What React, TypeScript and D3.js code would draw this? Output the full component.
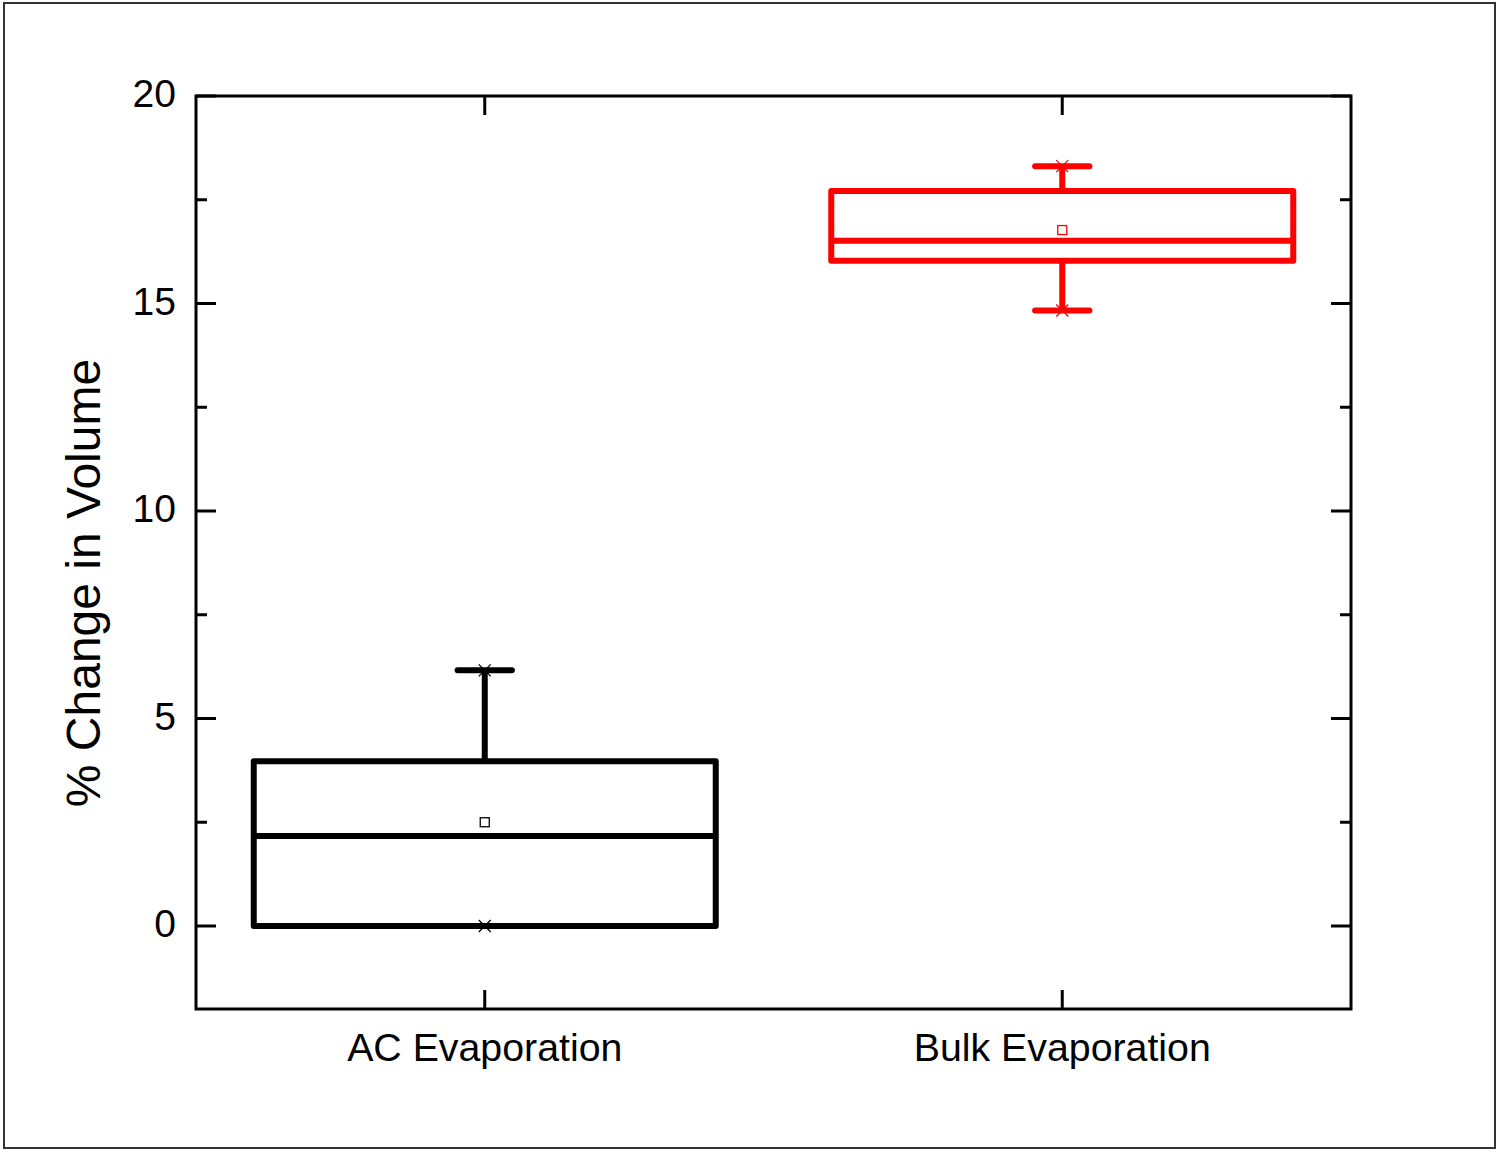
import React from "react";
import * as d3 from "d3";

// Box-plot statistics per group
const categories = ["AC Evaporation", "Bulk Evaporation"];
const q1Values = [0.0, 16.03];
const medianValues = [2.17, 16.51];
const q3Values = [3.97, 17.71];
const meanValues = [2.5, 16.77];
const whiskerLow = [0.0, 14.83];
const whiskerHigh = [6.16, 18.31];
const seriesColors = ["#000000", "#ff0000"];

const yMajorTicks = [0, 5, 10, 15, 20];
const yMinorTicks = [-2.5, 2.5, 7.5, 12.5, 17.5];
const yTitle = "% Change in Volume";

const W = 1499;
const H = 1153;
const plot = { left: 196, right: 1351, top: 96, bottom: 1009 };
const FONT = "'Liberation Sans', Arial, sans-serif";

export default function App() {
  const x = d3.scaleLinear().domain([0.5, 2.5]).range([plot.left, plot.right]);
  const y = d3.scaleLinear().domain([-2, 20]).range([plot.bottom, plot.top]);

  const boxHalf = x(1.4) - x(1);
  const capHalf = x(1.047) - x(1);

  const majorLen = 20;
  const minorLen = 11;

  return (
    <svg
      width={W}
      height={H}
      style={{ position: "absolute", left: 0, top: 0, background: "#fff" }}
    >
      <rect x={0} y={0} width={W} height={H} fill="#fff" />
      {/* outer frame */}
      <rect x={4} y={3} width={1491} height={1145} fill="none" stroke="#333" strokeWidth={2} />

      {/* y ticks on both sides */}
      {yMajorTicks.map((t) => (
        <g key={"maj" + t}>
          <line x1={plot.left} x2={plot.left + majorLen} y1={y(t)} y2={y(t)} stroke="#000" strokeWidth={3} />
          <line x1={plot.right} x2={plot.right - majorLen} y1={y(t)} y2={y(t)} stroke="#000" strokeWidth={3} />
          <text
            x={176}
            y={y(t) + 11}
            textAnchor="end"
            fontFamily={FONT}
            fontSize={39}
            fill="#000"
          >
            {t}
          </text>
        </g>
      ))}
      {yMinorTicks
        .filter((t) => y(t) < plot.bottom && y(t) > plot.top)
        .map((t) => (
          <g key={"min" + t}>
            <line x1={plot.left} x2={plot.left + minorLen} y1={y(t)} y2={y(t)} stroke="#000" strokeWidth={3} />
            <line x1={plot.right} x2={plot.right - minorLen} y1={y(t)} y2={y(t)} stroke="#000" strokeWidth={3} />
          </g>
        ))}

      {/* x ticks and labels */}
      {categories.map((c, i) => (
        <g key={c}>
          <line x1={x(i + 1)} x2={x(i + 1)} y1={plot.bottom} y2={plot.bottom - 19} stroke="#000" strokeWidth={3} />
          <line x1={x(i + 1)} x2={x(i + 1)} y1={plot.top} y2={plot.top + 19} stroke="#000" strokeWidth={3} />
          <text
            x={x(i + 1)}
            y={1061}
            textAnchor="middle"
            fontFamily={FONT}
            fontSize={39.3}
            fill="#000"
          >
            {c}
          </text>
        </g>
      ))}

      {/* boxes */}
      {categories.map((c, i) => {
        const cx = x(i + 1);
        const col = seriesColors[i];
        const lo = whiskerLow[i];
        const hi = whiskerHigh[i];
        const xMark = (v: number, k: string) => (
          <path
            key={k}
            d={`M${cx - 6},${y(v) - 6}L${cx + 6},${y(v) + 6}M${cx - 6},${y(v) + 6}L${cx + 6},${y(v) - 6}`}
            stroke={col}
            strokeWidth={1.3}
            fill="none"
          />
        );
        return (
          <g key={"box" + c}>
            {/* whiskers */}
            <line x1={cx} x2={cx} y1={y(q3Values[i])} y2={y(hi)} stroke={col} strokeWidth={6} />
            <line x1={cx - capHalf} x2={cx + capHalf} y1={y(hi)} y2={y(hi)} stroke={col} strokeWidth={6} strokeLinecap="round" />
            {lo < q1Values[i] && (
              <>
                <line x1={cx} x2={cx} y1={y(q1Values[i])} y2={y(lo)} stroke={col} strokeWidth={6} />
                <line x1={cx - capHalf} x2={cx + capHalf} y1={y(lo)} y2={y(lo)} stroke={col} strokeWidth={6} strokeLinecap="round" />
              </>
            )}
            {/* box */}
            <rect
              x={cx - boxHalf}
              y={y(q3Values[i])}
              width={boxHalf * 2}
              height={y(q1Values[i]) - y(q3Values[i])}
              fill="none"
              stroke={col}
              strokeWidth={6}
              strokeLinejoin="round"
            />
            <line x1={cx - boxHalf} x2={cx + boxHalf} y1={y(medianValues[i])} y2={y(medianValues[i])} stroke={col} strokeWidth={6} />
            {/* mean */}
            <rect x={cx - 4.5} y={y(meanValues[i]) - 4.5} width={9} height={9} fill="#fff" stroke={col} strokeWidth={1.3} />
            {/* min / max markers */}
            {xMark(hi, "max")}
            {xMark(lo, "min")}
          </g>
        );
      })}

      {/* plot frame */}
      <rect
        x={plot.left}
        y={plot.top}
        width={plot.right - plot.left}
        height={plot.bottom - plot.top}
        fill="none"
        stroke="#000"
        strokeWidth={3}
      />

      {/* y title */}
      <text
        transform={`translate(100, 583) rotate(-90)`}
        textAnchor="middle"
        fontFamily={FONT}
        fontSize={48}
        fill="#000"
      >
        {yTitle}
      </text>
    </svg>
  );
}
